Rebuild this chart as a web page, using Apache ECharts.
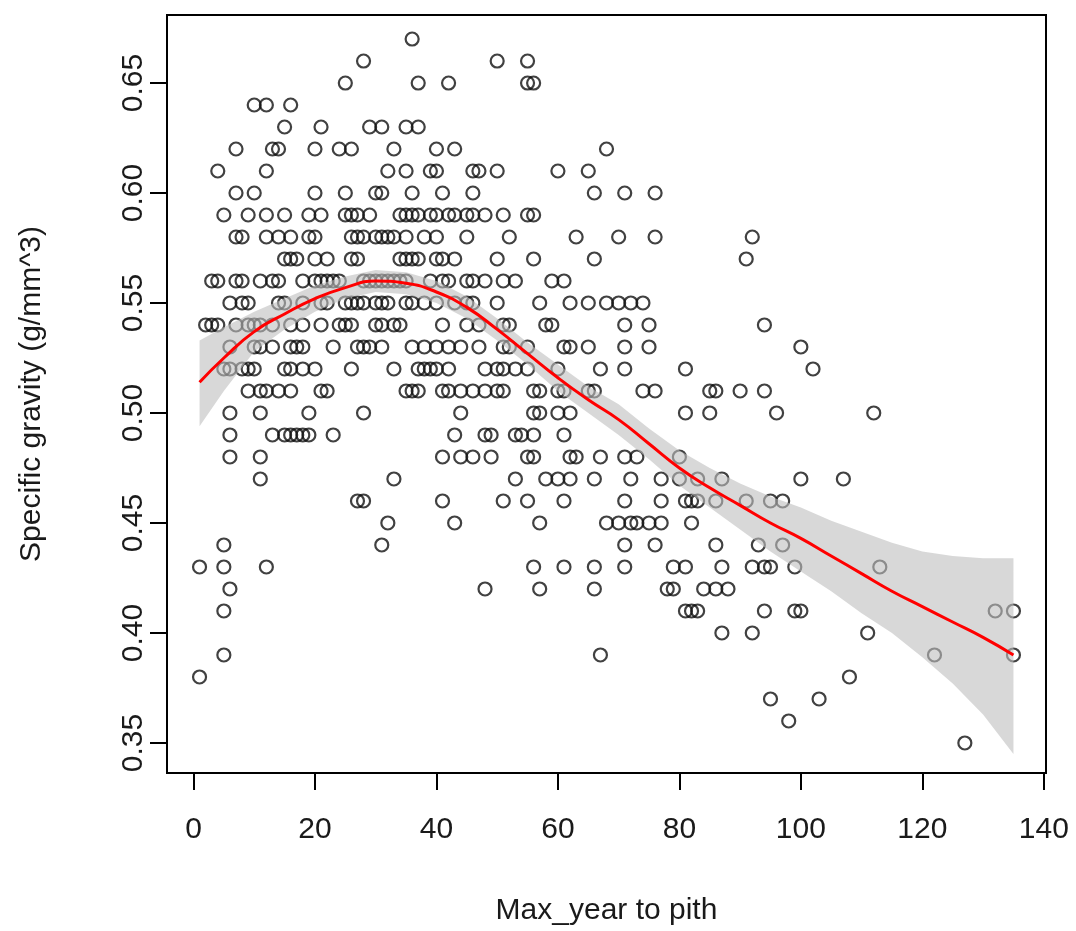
<!DOCTYPE html>
<html>
<head>
<meta charset="utf-8">
<script src="https://cdn.jsdelivr.net/npm/echarts@6/dist/echarts.min.js"></script>
<style>
html, body { margin: 0; padding: 0; background: #fff; }
#main { width: 1076px; height: 931px; }
</style>
</head>
<body>
<div id="main"></div>
<script>
// specific gravity levels (data sits on 0.01 steps) and the years found at each level
var gravityRows = [0.67, 0.66, 0.65, 0.64, 0.63, 0.62, 0.61, 0.60, 0.59, 0.58,
                   0.57, 0.56, 0.55, 0.54, 0.53, 0.52, 0.51, 0.50, 0.49, 0.48,
                   0.47, 0.46, 0.45, 0.44, 0.43, 0.42, 0.41, 0.40, 0.39, 0.38,
                   0.37, 0.36, 0.35];
var yearsInRow = [
    [36],
    [28, 50, 55],
    [25, 37, 42, 55, 56],
    [10, 12, 16],
    [15, 21, 29, 31, 35, 37],
    [7, 13, 14, 20, 24, 26, 33, 40, 43, 68],
    [4, 12, 32, 35, 39, 40, 46, 47, 50, 60, 65],
    [7, 10, 20, 25, 30, 31, 36, 41, 46, 66, 71, 76],
    [5, 9, 12, 15, 19, 21, 25, 26, 27, 29, 34, 35, 36, 37, 39, 40, 42, 43, 45, 46, 48, 51, 55, 56],
    [7, 8, 12, 14, 16, 19, 20, 26, 27, 28, 30, 31, 32, 33, 35, 38, 40, 45, 52, 63, 70, 76, 92],
    [15, 16, 17, 20, 22, 26, 27, 34, 35, 36, 37, 40, 41, 43, 50, 56, 66, 91],
    [3, 4, 7, 8, 11, 13, 14, 18, 20, 21, 22, 23, 24, 28, 29, 30, 31, 32, 33, 34, 35, 39, 41, 42, 45, 46, 48, 51, 53, 59, 61],
    [6, 8, 9, 14, 15, 18, 21, 22, 25, 26, 27, 28, 30, 31, 32, 35, 36, 38, 40, 43, 45, 46, 50, 57, 62, 65, 68, 70, 72, 74],
    [2, 3, 4, 7, 9, 10, 11, 13, 16, 18, 21, 24, 25, 26, 30, 31, 33, 34, 41, 45, 47, 51, 52, 58, 59, 71, 75, 94],
    [6, 10, 11, 13, 16, 17, 18, 23, 27, 28, 29, 31, 36, 38, 40, 42, 44, 47, 51, 52, 55, 61, 62, 65, 71, 75, 100],
    [5, 6, 8, 9, 10, 15, 16, 18, 20, 26, 33, 37, 38, 39, 40, 42, 48, 50, 51, 53, 55, 60, 67, 71, 81, 102],
    [9, 11, 12, 14, 16, 21, 22, 35, 36, 37, 41, 42, 44, 46, 48, 50, 51, 56, 57, 60, 61, 65, 66, 74, 76, 85, 86, 90, 94],
    [6, 11, 19, 28, 44, 56, 57, 60, 62, 81, 85, 96, 112],
    [6, 13, 15, 16, 17, 18, 19, 23, 43, 48, 49, 53, 54, 56, 61],
    [6, 11, 41, 44, 46, 49, 55, 56, 62, 63, 67, 71, 73, 80],
    [11, 33, 53, 58, 60, 62, 66, 72, 77, 80, 83, 87, 100, 107],
    [27, 28, 41, 51, 55, 61, 71, 77, 81, 82, 83, 86, 91, 95, 97],
    [32, 43, 57, 68, 70, 72, 73, 75, 77, 82],
    [5, 31, 71, 76, 86, 93, 97],
    [1, 5, 12, 56, 61, 66, 71, 79, 81, 87, 92, 94, 95, 99, 113],
    [6, 48, 57, 66, 78, 79, 84, 86, 88],
    [5, 81, 82, 83, 94, 99, 100, 132, 135],
    [87, 92, 111],
    [5, 67, 122, 135],
    [1, 108],
    [95, 103],
    [98],
    [127]
];

// loess line (red) and its grey confidence band
var fitYears   = [1, 5, 10, 15, 20, 25, 30, 35, 40, 45, 50, 55, 60, 65, 70, 75, 80, 85, 90, 95, 100, 105, 110, 115, 120, 125, 130, 135];
var fitGravity = [0.514, 0.525, 0.537, 0.545, 0.552, 0.557, 0.560, 0.559, 0.555, 0.548, 0.538, 0.527, 0.516, 0.506,
                  0.497, 0.486, 0.475, 0.466, 0.458, 0.450, 0.443, 0.435, 0.427, 0.419, 0.412, 0.405, 0.398, 0.390];
var bandLower  = [0.494, 0.510, 0.528, 0.538, 0.546, 0.552, 0.555, 0.554, 0.550, 0.543, 0.533, 0.522, 0.510, 0.500,
                  0.490, 0.479, 0.467, 0.457, 0.447, 0.437, 0.428, 0.419, 0.409, 0.400, 0.389, 0.377, 0.363, 0.345];
var bandUpper  = [0.533, 0.539, 0.546, 0.552, 0.558, 0.562, 0.565, 0.564, 0.560, 0.553, 0.543, 0.532, 0.522, 0.512,
                  0.504, 0.493, 0.483, 0.475, 0.468, 0.462, 0.457, 0.451, 0.446, 0.441, 0.437, 0.435, 0.434, 0.434];

var xTicks = [0, 20, 40, 60, 80, 100, 120, 140];
var yTicks = [0.35, 0.40, 0.45, 0.50, 0.55, 0.60, 0.65];

var points = [];
gravityRows.forEach(function (g, i) {
    yearsInRow[i].forEach(function (yr) {
        points.push([yr, g]);
    });
});

var lineData = fitYears.map(function (x, i) { return [x, fitGravity[i]]; });
var bandData = fitYears.map(function (x, i) { return [x, bandLower[i], bandUpper[i]]; });

var font = "'Liberation Sans', Arial, sans-serif";
var tickStyle = { color: '#000', width: 2 };

var myChart = echarts.init(document.getElementById('main'));

var option = {
    backgroundColor: '#fff',
    animation: false,
    grid: {
        left: 167, right: 30, top: 15, bottom: 158,
        show: true, borderColor: '#000', borderWidth: 2,
        outerBoundsMode: 'none'
    },
    xAxis: {
        type: 'value',
        min: -4.36, max: 140.36,
        splitLine: { show: false },
        axisLine: { show: false, onZero: false },
        axisTick: { show: true, inside: false, length: 17, customValues: xTicks, lineStyle: tickStyle },
        axisLabel: { customValues: xTicks, fontSize: 30, fontFamily: font, color: '#1a1a1a', margin: 42 },
        name: 'Max_year to pith',
        nameLocation: 'middle',
        nameGap: 123,
        nameTextStyle: { fontSize: 30, fontFamily: font, color: '#1a1a1a' }
    },
    yAxis: {
        type: 'value',
        min: 0.33636, max: 0.68091,
        splitLine: { show: false },
        axisLine: { show: false, onZero: false },
        axisTick: { show: true, inside: false, length: 17, customValues: yTicks, lineStyle: tickStyle },
        axisLabel: {
            customValues: yTicks, rotate: 90, fontSize: 30, fontFamily: font, color: '#1a1a1a', margin: 18,
            formatter: function (v) { return v.toFixed(2); }
        },
        name: 'Specific gravity (g/mm^3)',
        nameLocation: 'middle',
        nameGap: 120,
        nameRotate: 90,
        nameTextStyle: { fontSize: 30, fontFamily: font, color: '#1a1a1a' }
    },
    series: [
        {
            // open circles
            type: 'scatter',
            data: points,
            symbol: 'circle',
            symbolSize: 13,
            z: 2,
            itemStyle: { color: 'rgba(0,0,0,0)', borderColor: '#111', borderWidth: 2.2 }
        },
        {
            // grey band drawn over the points, so points inside look faded
            type: 'custom',
            data: bandData,
            z: 3,
            encode: { x: 0, y: [1, 2] },
            renderItem: function (params, api) {
                if (params.dataIndex !== 0) return;
                var pts = [];
                for (var i = 0; i < fitYears.length; i++) {
                    pts.push(api.coord([fitYears[i], bandUpper[i]]));
                }
                for (var j = fitYears.length - 1; j >= 0; j--) {
                    pts.push(api.coord([fitYears[j], bandLower[j]]));
                }
                return {
                    type: 'polygon',
                    shape: { points: pts },
                    style: { fill: 'rgba(190,190,190,0.6)' }
                };
            }
        },
        {
            // loess line
            type: 'line',
            data: lineData,
            smooth: true,
            showSymbol: false,
            z: 4,
            lineStyle: { color: '#ff0000', width: 3 }
        }
    ]
};

myChart.setOption(option);
</script>
</body>
</html>
